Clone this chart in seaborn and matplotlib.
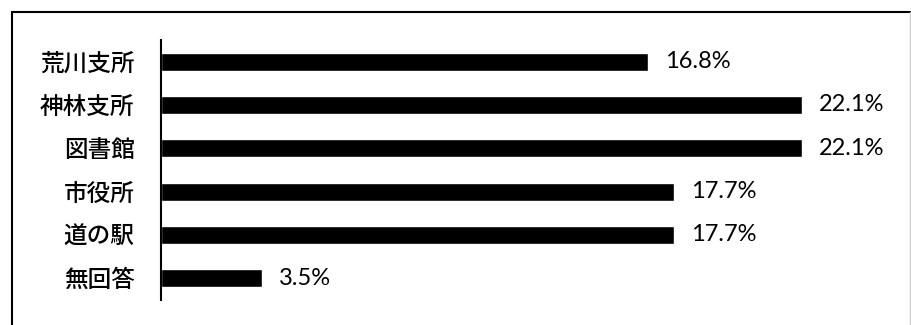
import pandas as pd
import matplotlib.pyplot as plt
import seaborn as sns
from matplotlib.lines import Line2D

# データ
places = ['荒川支所', '神林支所', '図書館', '市役所', '道の駅', '無回答']
percent = [16.8, 22.1, 22.1, 17.7, 17.7, 3.5]

df = pd.DataFrame({'place': places, 'percent': percent})

sns.set_theme(style="white")
plt.rcParams['font.family'] = ['Noto Sans CJK JP', 'DejaVu Sans']

fig = plt.figure(figsize=(9.12, 3.25), dpi=100)
ax = fig.add_axes([0.1765, 0.077, 0.795, 0.8])

sns.barplot(data=df, x='percent', y='place', color='black', width=0.42,
            saturation=1, ax=ax)

ax.set_xlim(0, 25)
ax.set_ylim(5.5, -0.5)
ax.set_xlabel('')
ax.set_ylabel('')
ax.set_xticks([])
for s in ['top', 'right', 'bottom']:
    ax.spines[s].set_visible(False)
ax.spines['left'].set_color('black')
ax.spines['left'].set_linewidth(1.5)
ax.tick_params(axis='y', length=0, pad=19, labelsize=17, labelcolor='black')
for t in ax.get_yticklabels():
    t.set_fontweight('medium')

# 数値ラベル
for i, v in enumerate(percent):
    ax.annotate(f'{v}%', xy=(v, i), xytext=(12, 0), textcoords='offset points',
                va='center', ha='left', fontsize=17, family='Lato', color='black')

# 外枠
fig.add_artist(Line2D([12/912, 911/912], [1-12/325, 1-12/325], transform=fig.transFigure,
                      color='black', lw=1.5))
fig.add_artist(Line2D([12/912, 12/912], [1-12/325, 0], transform=fig.transFigure,
                      color='black', lw=1.5))
fig.add_artist(Line2D([910/912, 910/912], [1-12/325, 0], transform=fig.transFigure,
                      color='#cccccc', lw=1))

plt.savefig('out.png', dpi=100)
